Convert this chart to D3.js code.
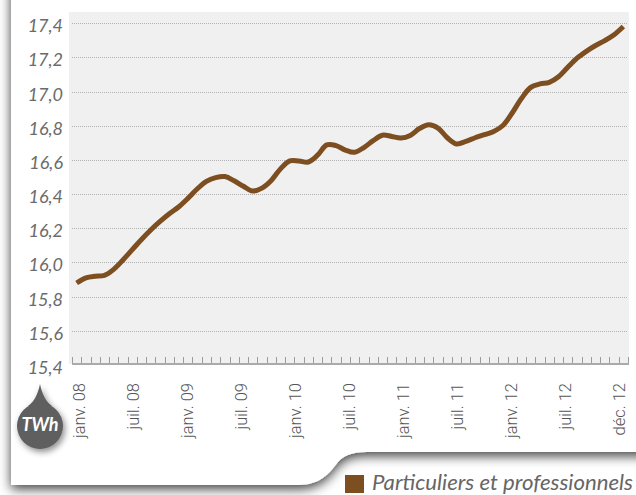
<!DOCTYPE html>
<html><head><meta charset="utf-8">
<script src="https://cdn.jsdelivr.net/npm/d3@7"></script>
<style>
html,body{margin:0;padding:0;background:#fff;overflow:hidden}
svg{display:block}
</style></head>
<body>
<svg id="c" width="636" height="495"></svg>
<script>
// ---- data ----
const months = d3.timeMonths(new Date(2008,0,1), new Date(2013,0,1));
const values = [
  15.88, 15.91, 15.92, 15.925, 15.96, 16.015, 16.075, 16.135, 16.19, 16.24, 16.285, 16.325,
  16.375, 16.43, 16.475, 16.497, 16.503, 16.478, 16.446, 16.418, 16.435, 16.48, 16.548, 16.595,
  16.594, 16.588, 16.628, 16.688, 16.684, 16.658, 16.645, 16.673, 16.713, 16.745, 16.738, 16.729,
  16.744, 16.784, 16.806, 16.787, 16.73, 16.694, 16.709, 16.73, 16.748, 16.767, 16.802, 16.875,
  16.96, 17.025, 17.045, 17.054, 17.087, 17.143, 17.196, 17.236, 17.27, 17.299, 17.333, 17.381
];
const xLabels = ["janv. 08","juil. 08","janv. 09","juil. 09","janv. 10","juil. 10","janv. 11","juil. 11","janv. 12","juil. 12","déc. 12"];
const yTicks = [15.4,15.6,15.8,16.0,16.2,16.4,16.6,16.8,17.0,17.2,17.4];
const seriesName = "Particuliers et professionnels";
const unitLabel = "TWh";

// ---- drawing ----
const svg = d3.select("#c");
const defs = svg.append("defs");
const f1 = defs.append("filter").attr("id","cardShadow").attr("x","-10%").attr("y","-10%").attr("width","120%").attr("height","130%");
f1.append("feDropShadow").attr("dx",0).attr("dy",4).attr("stdDeviation",6).attr("flood-color","#000").attr("flood-opacity",0.75);
const f2 = defs.append("filter").attr("id","badgeShadow").attr("x","-50%").attr("y","-50%").attr("width","200%").attr("height","200%");
f2.append("feDropShadow").attr("dx",2).attr("dy",3).attr("stdDeviation",3).attr("flood-color","#000").attr("flood-opacity",0.45);

// card
svg.append("path")
  .attr("d","M11,-30 H660 V452 H372 C356,452 346,453 338,462 C329,474 320,485 298,485 H11 Z")
  .attr("fill","#fff").attr("filter","url(#cardShadow)");

const x = d3.scaleBand().domain(months).range([72,628]).padding(0);
const xc = d => x(d) + x.bandwidth()/2;
const xl = d3.scalePoint().domain(xLabels).range([78,618]);
const y = d3.scaleLinear().domain([15.4,17.4]).range([365,23.3]);

// plot background
svg.append("rect").attr("x",69).attr("y",12).attr("width",629-69).attr("height",364-12).attr("fill","#f0f0f0");

// gridlines
svg.append("g").selectAll("line").data(yTicks.filter(v=>v>15.4)).join("line")
  .attr("x1",72).attr("x2",627).attr("y1",d=>Math.round(y(d))+0.5).attr("y2",d=>Math.round(y(d))+0.5)
  .attr("stroke","#b0b0b0").attr("stroke-width",1).attr("stroke-dasharray","1,1");

// y labels
svg.append("g").selectAll("text").data(yTicks).join("text")
  .attr("x",63).attr("y",d=>y(d)).attr("dy","0.5em")
  .attr("text-anchor","end")
  .attr("font-family","Lato, 'Open Sans', sans-serif").attr("font-style","italic")
  .attr("font-size",18).attr("fill","#6b6b6b")
  .text(d=>d3.format(".1f")(d).replace(".",","));

// x axis line and ticks
const tickPos = months.map(m=>x(m)).concat([x.range()[1]]);
svg.append("g").selectAll("line").data(tickPos).join("line")
  .attr("x1",d=>Math.round(d)+0.5).attr("x2",d=>Math.round(d)+0.5)
  .attr("y1",357).attr("y2",364).attr("stroke","#9c9c9c").attr("stroke-width",1);
svg.append("line").attr("x1",72).attr("x2",629).attr("y1",364).attr("y2",364)
  .attr("stroke","#aaaaaa").attr("stroke-width",2);

// x labels
svg.append("g").selectAll("text").data(xLabels).join("text")
  .attr("transform",d=>`translate(${xl(d)},383) rotate(-90)`)
  .attr("dy","0.42em")
  .attr("text-anchor","end")
  .attr("font-family","Roboto, 'Liberation Sans', sans-serif").attr("font-weight",300)
  .attr("font-size",16.5).attr("fill","#555")
  .text(d=>d);

// line
const line = d3.line().x((d,i)=>xc(months[i])).y(d=>y(d)).curve(d3.curveCatmullRom.alpha(0.5));
svg.append("path").datum(values).attr("d",line)
  .attr("fill","none").attr("stroke","#7d4e20").attr("stroke-width",5)
  .attr("stroke-linejoin","round").attr("stroke-linecap","butt");

// unit badge
const b = svg.append("g").attr("filter","url(#badgeShadow)");
b.append("path").attr("d","M40,384 C42,394 46,402 52,406 L28,406 C34,402 38,394 40,384 Z").attr("fill","#5e5e5e");
b.append("circle").attr("cx",40).attr("cy",426).attr("r",23).attr("fill","#5e5e5e");
svg.append("text").attr("x",40).attr("y",431).attr("text-anchor","middle")
  .attr("font-family","Lato, sans-serif").attr("font-weight","bold").attr("font-style","italic")
  .attr("font-size",18).attr("fill","#fff").text(unitLabel);

// legend
svg.append("rect").attr("x",345).attr("y",475).attr("width",19).attr("height",18).attr("fill","#7d4e20");
const lt = svg.append("text").attr("x",372).attr("y",490)
  .attr("font-family","Lato, sans-serif").attr("font-style","italic")
  .attr("font-size",21).attr("fill","#666").text(seriesName);
const w = lt.node().getComputedTextLength();
if (w > 0) lt.attr("textLength",261).attr("lengthAdjust","spacingAndGlyphs");
</script>
</body></html>
